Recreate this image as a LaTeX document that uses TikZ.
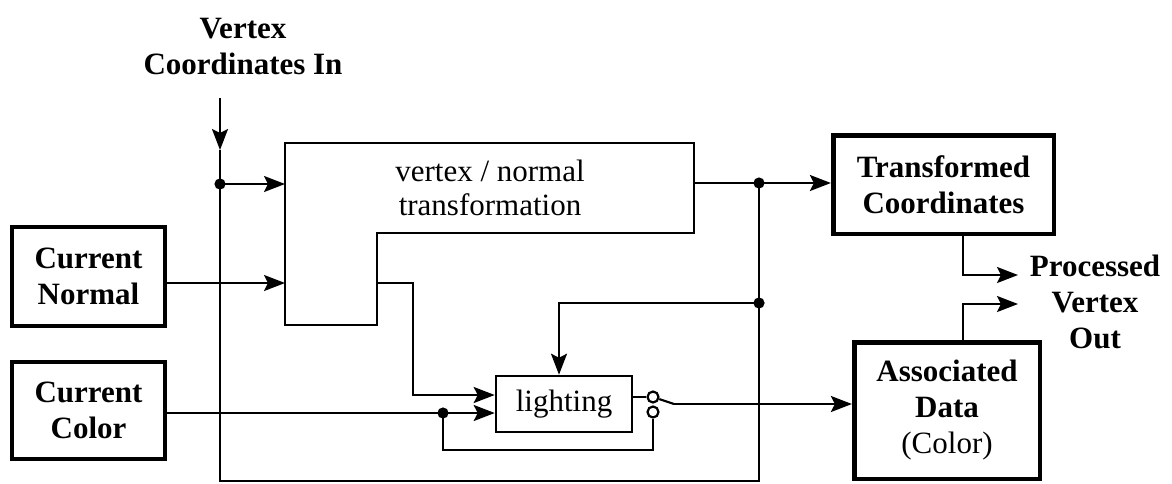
\documentclass[tikz,border=0pt]{standalone}
\usepackage{fontspec}
\setmainfont{Liberation Serif}
\usetikzlibrary{arrows.meta}
\begin{document}
\begin{tikzpicture}[x=0.5pt,y=-0.5pt, line width=1.1pt,
  arr/.style={-{Stealth[length=10.5pt,width=8pt,inset=2pt]}},
  bigbox/.style={draw, line width=2.3pt, font=\bfseries, align=center, inner sep=0pt},
  thinbox/.style={draw, line width=1.3pt, align=center, inner sep=0pt},
  lbl/.style={font=\bfseries, align=center},
  contact/.style={circle, draw, line width=1.1pt, fill=white, inner sep=0pt, minimum size=5.5pt}]
\fontsize{15.5}{18}\selectfont
\useasboundingbox[fill=white] (0,0) rectangle (1172,483);

% nodes
\node[lbl] (vlab) at (243,46) {Vertex\\Coordinates In};
\node[bigbox, minimum width=76.5pt, minimum height=49.5pt] (cn) at (88.5,276.5) {Current\\Normal};
\node[bigbox, minimum width=76.5pt, minimum height=48.5pt] (cc) at (88.5,410.5) {Current\\Color};
\node[bigbox, minimum width=110.3pt, minimum height=49.3pt] (tc) at (943.5,184.5) {Transformed\\Coordinates};
\node[bigbox, minimum width=92.8pt, minimum height=68.3pt] (ad) at (947,410.5) {Associated\\Data\\\mdseries(Color)};
\node[thinbox, minimum width=68pt, minimum height=28pt] (lit) at (564,404) {lighting};
\node[lbl] (pvo) at (1095,302) {Processed\\Vertex\\Out};

% L-shaped transformation block
\draw[line width=1.3pt] (285,143) -- (694,143) -- (694,233) -- (377,233) -- (377,325) -- (285,325) -- cycle;
\node[align=center, font=\fontsize{15.5}{17}\selectfont] (xft) at (490,188) {vertex / normal\\transformation};

% coordinates
\coordinate (vin) at (220,98);
\coordinate (varr) at (220,150);
\coordinate (jv) at (220,184);
\coordinate (bl) at (220,481);
\coordinate (br) at (759,481);
\coordinate (jl) at (759,303);
\coordinate (jt) at (759,183);
\coordinate (xin1) at (285,184);
\coordinate (xin2) at (285,283);
\coordinate (xout) at (694,183);
\coordinate (xnorm) at (377,283);
\coordinate (nbend) at (413,283);
\coordinate (nbend2) at (413,395);
\coordinate (lin1) at (lit.west |- nbend2);
\coordinate (jc) at (443,413);
\coordinate (lin2) at (lit.west |- jc);
\coordinate (fb1) at (443,450);
\coordinate (fb2) at (653,450);
\node[contact] (sw1) at (653,397) {};
\node[contact] (sw2) at (653,412) {};
\coordinate (lout) at (lit.east |- sw1);
\coordinate (blade) at (674,404);
\coordinate (adin) at (ad.west |- blade);
\coordinate (lb1) at (559,303);
\coordinate (ltop) at (lit.north -| lb1);
\coordinate (o1) at (963,275);
\coordinate (o1e) at (1018,275);
\coordinate (o2) at (963,304);
\coordinate (o2e) at (1018,304);

% connectors
\draw[arr] (vin) -- (varr);
\draw (varr) -- (jv) -- (bl) -- (br) -- (jl) -- (jt);
\draw[arr] (jv) -- (xin1);
\draw[arr] (cn.east |- xin2) -- (xin2);
\draw[arr] (xnorm) -- (nbend) -- (nbend2) -- (lin1);
\draw[arr] (cc.east |- jc) -- (lin2);
\draw (jc) -- (fb1) -- (fb2) -- (sw2.south);
\draw (lout) -- (sw1.west);
\draw (sw1) -- (blade);
\draw[arr] (blade) -- (adin);
\draw[arr] (xout) -- (jt) -- (tc.west |- jt);
\draw[arr] (jl) -- (lb1) -- (ltop);
\draw[arr] (tc.south -| o1) -- (o1) -- (o1e);
\draw[arr] (ad.north -| o2) -- (o2) -- (o2e);

% junction dots
\foreach \p in {jv,jt,jl,jc} \fill (\p) circle (2.8pt);
\end{tikzpicture}
\end{document}
